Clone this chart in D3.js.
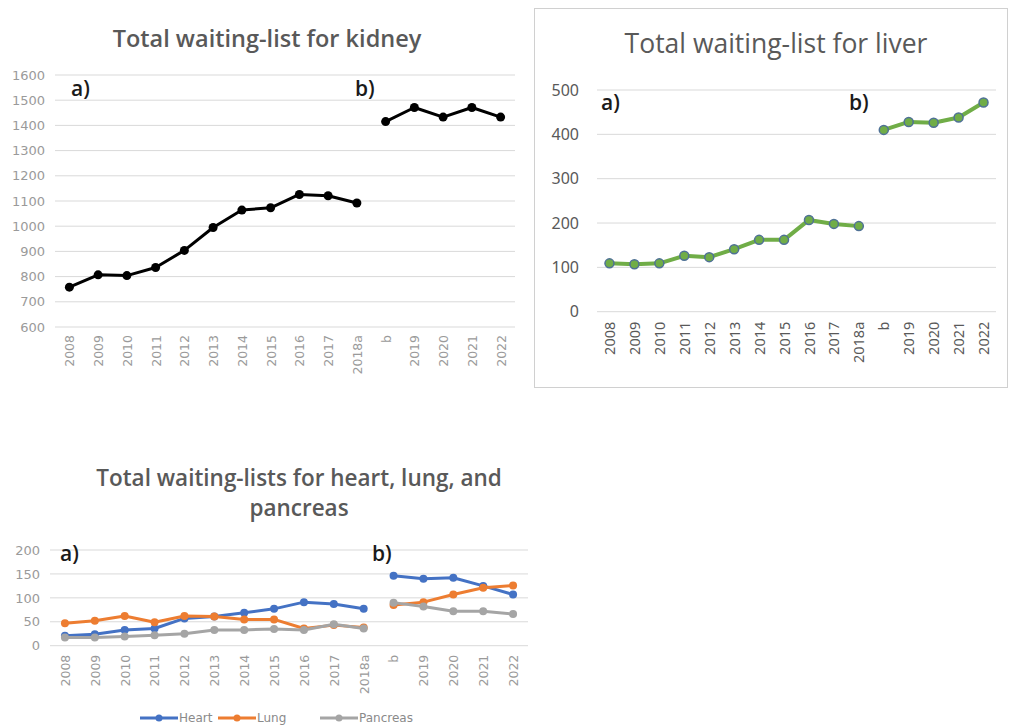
<!DOCTYPE html>
<html>
<head>
<meta charset="utf-8">
<script src="https://cdn.jsdelivr.net/npm/d3@7"></script>
<style>
  body { margin: 0; background: #fff; }
  svg { display: block; }
</style>
</head>
<body>
<svg id="chart" width="1009" height="726"></svg>
<script>
// categories shared by all three panels; "b" starts the second period
var years = ["2008", "2009", "2010", "2011", "2012", "2013", "2014", "2015", "2016", "2017", "2018a", "b", "2019", "2020", "2021", "2022"];

var kidney = [758, 807, 804, 836, 904, 995, 1064, 1073, 1126, 1121, 1092, 1415, 1471, 1433, 1471, 1433];
var liver = [109, 107, 109, 126, 123, 141, 162, 162, 207, 198, 193, 410, 428, 426, 438, 472];
var heart = [21, 24, 33, 36, 57, 61, 69, 77, 91, 87, 77, 146, 140, 142, 125, 107];
var lung = [47, 52, 62, 49, 62, 61, 55, 55, 36, 43, 38, 85, 91, 107, 121, 126];
var pancreas = [17, 17, 19, 22, 25, 33, 33, 35, 33, 45, 36, 90, 82, 72, 72, 66];

var kidneyTicks = [600, 700, 800, 900, 1000, 1100, 1200, 1300, 1400, 1500, 1600];
var liverTicks = [0, 100, 200, 300, 400, 500];
var otherTicks = [0, 50, 100, 150, 200];

var seriesNames = ["Heart", "Lung", "Pancreas"];

var svg = d3.select("#chart");
var breakAt = years.indexOf("b");

function panel(opts) {
	var g = svg.append("g");

	var x = d3.scalePoint()
		.domain(years)
		.range([opts.left, opts.right])
		.padding(0.5);

	var y = d3.scaleLinear()
		.domain(opts.domain)
		.range([opts.bottom, opts.top]);

	// gridlines
	g.selectAll("line.grid")
		.data(opts.ticks)
		.enter().append("line")
		.attr("class", "grid")
		.attr("x1", opts.left)
		.attr("x2", opts.right)
		.attr("y1", function(d){ return y(d); })
		.attr("y2", function(d){ return y(d); })
		.attr("stroke", "#d9d9d9")
		.attr("stroke-width", 1);

	// y axis labels
	var yAxis = d3.axisLeft(y)
		.tickValues(opts.ticks)
		.tickFormat(d3.format("d"))
		.tickSize(0)
		.tickPadding(opts.yPad);
	g.append("g")
		.attr("transform", "translate(" + opts.left + ",0)")
		.call(yAxis)
		.call(function(s){ s.select(".domain").remove(); })
		.selectAll("text")
			.attr("font-family", opts.tickFont)
			.attr("font-size", opts.tickSize)
			.attr("fill", opts.tickColor);

	// x axis labels, rotated
	var xAxis = d3.axisBottom(x).tickSize(0).tickPadding(0);
	g.append("g")
		.attr("transform", "translate(0," + opts.bottom + ")")
		.call(xAxis)
		.call(function(s){ s.select(".domain").remove(); })
		.selectAll("text")
			.attr("font-family", opts.tickFont)
			.attr("font-size", opts.xTickSize)
			.attr("fill", opts.tickColor)
			.attr("transform", "rotate(-90)")
			.attr("x", -opts.xPad)
			.attr("y", 0)
			.attr("dy", "0.35em")
			.style("text-anchor", "end");

	var line = d3.line()
		.x(function(d){ return x(d.cat); })
		.y(function(d){ return y(d.v); });

	opts.series.forEach(function(s){
		var pts = s.values.map(function(v, i){ return { cat: years[i], v: v }; });
		[pts.slice(0, breakAt), pts.slice(breakAt)].forEach(function(seg){
			g.append("path")
				.datum(seg)
				.attr("d", line)
				.attr("fill", "none")
				.attr("stroke", s.color)
				.attr("stroke-width", opts.lineWidth)
				.attr("stroke-linejoin", "round");
		});
		g.selectAll(null)
			.data(pts)
			.enter().append("circle")
			.attr("cx", function(d){ return x(d.cat); })
			.attr("cy", function(d){ return y(d.v); })
			.attr("r", opts.r)
			.attr("fill", s.color)
			.attr("stroke", s.markerStroke || s.color)
			.attr("stroke-width", s.markerStroke ? 1.5 : 0);
	});

	// period labels
	["a)", "b)"].forEach(function(lbl, i){
		g.append("text")
			.attr("x", i === 0 ? opts.aX : opts.bX)
			.attr("y", opts.abY)
			.attr("font-family", "Open Sans, sans-serif")
			.attr("font-size", opts.abSize)
			.attr("font-weight", 600)
			.attr("fill", "#1a1a1a")
			.text(lbl);
	});

	// title
	var t = g.append("text")
		.attr("x", opts.titleX)
		.attr("y", opts.titleY)
		.attr("text-anchor", "middle")
		.attr("font-family", "Open Sans, sans-serif")
		.attr("font-size", opts.titleSize)
		.attr("font-weight", opts.titleWeight)
		.attr("fill", "#595959");
	opts.title.forEach(function(l, i){
		t.append("tspan")
			.attr("x", opts.titleX)
			.attr("dy", i === 0 ? 0 : opts.titleLead)
			.text(l);
	});

	return { g: g, x: x, y: y };
}

// liver chart frame
svg.append("rect")
	.attr("x", 534.5)
	.attr("y", 8.5)
	.attr("width", 473)
	.attr("height", 379)
	.attr("fill", "none")
	.attr("stroke", "#d0d0d0");

panel({
	left: 55, right: 515, top: 75, bottom: 327,
	domain: [600, 1600], ticks: kidneyTicks,
	tickFont: "DejaVu Sans, sans-serif", tickSize: 13, xTickSize: 12.5,
	tickColor: "#9a9a9a", yPad: 10, xPad: 8,
	series: [{ values: kidney, color: "#000" }],
	lineWidth: 3, r: 4.5,
	aX: 71, bX: 355, abY: 96, abSize: 21,
	title: ["Total waiting-list for kidney"], titleX: 267, titleY: 47, titleSize: 23.5, titleWeight: 600
});

panel({
	left: 597, right: 996, top: 90, bottom: 311.7,
	domain: [0, 500], ticks: liverTicks,
	tickFont: "Noto Sans, sans-serif", tickSize: 16, xTickSize: 14.5,
	tickColor: "#595959", yPad: 18, xPad: 10,
	series: [{ values: liver, color: "#70AD47", markerStroke: "#4f7196" }],
	lineWidth: 4, r: 4.5,
	aX: 601, bX: 849, abY: 110, abSize: 21,
	title: ["Total waiting-list for liver"], titleX: 776, titleY: 53, titleSize: 26.5, titleWeight: 400
});

var bottom = panel({
	left: 50, right: 528, top: 550, bottom: 645.7,
	domain: [0, 200], ticks: otherTicks,
	tickFont: "DejaVu Sans, sans-serif", tickSize: 13, xTickSize: 12.5,
	tickColor: "#9a9a9a", yPad: 10, xPad: 9,
	series: [
		{ values: heart, color: "#4472C4" },
		{ values: lung, color: "#ED7D31" },
		{ values: pancreas, color: "#A5A5A5" }
	],
	lineWidth: 3, r: 4,
	aX: 60, bX: 372, abY: 561, abSize: 21,
	title: ["Total waiting-lists for heart, lung, and", "pancreas"], titleX: 299, titleY: 486, titleSize: 22.5, titleWeight: 600, titleLead: 30
});

// legend
var legendColors = ["#4472C4", "#ED7D31", "#A5A5A5"];
var legendX = [140, 218, 320];
var legend = svg.append("g").attr("transform", "translate(0,718)");
seriesNames.forEach(function(name, i){
	var lx = legendX[i];
	legend.append("line")
		.attr("x1", lx).attr("x2", lx + 38)
		.attr("y1", 0).attr("y2", 0)
		.attr("stroke", legendColors[i])
		.attr("stroke-width", 3);
	legend.append("circle")
		.attr("cx", lx + 19).attr("cy", 0).attr("r", 3.5)
		.attr("fill", legendColors[i]);
	legend.append("text")
		.attr("x", lx + 39)
		.attr("y", 0)
		.attr("dy", "0.35em")
		.attr("font-family", "DejaVu Sans, sans-serif")
		.attr("font-size", 12)
		.attr("fill", "#8a8a8a")
		.text(name);
});
</script>
</body>
</html>
